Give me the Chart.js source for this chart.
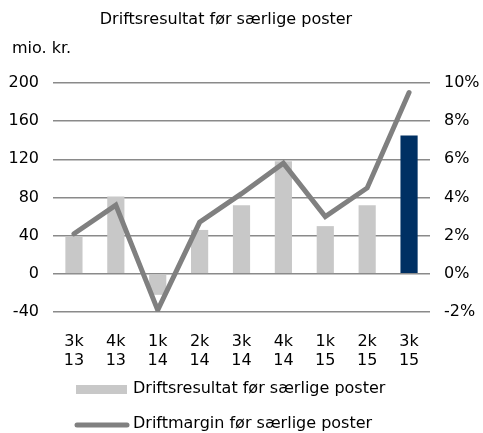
<!DOCTYPE html>
<html>
<head>
<meta charset="utf-8">
<script src="https://cdn.jsdelivr.net/npm/chart.js"></script>
<style>
  html, body { margin:0; padding:0; background:#fff; }
  canvas { display:block; }
</style>
</head>
<body>
<canvas id="chart" width="483" height="433"></canvas>
<script>
// data
const quarters = [["3k","13"],["4k","13"],["1k","14"],["2k","14"],["3k","14"],["4k","14"],["1k","15"],["2k","15"],["3k","15"]];
const resultat = [39, 81, -22, 46, 72, 118, 50, 72, 145];
const margin = [2.1, 3.6, -1.9, 2.7, 4.2, 5.8, 3.0, 4.5, 9.5];
const barColors = ["#c8c8c8","#c8c8c8","#c8c8c8","#c8c8c8","#c8c8c8","#c8c8c8","#c8c8c8","#c8c8c8","#003063"];
const leftTicks = [-40, 0, 40, 80, 120, 160, 200];
const rightTicks = [-2, 0, 2, 4, 6, 8, 10];

const FONT = "DejaVu Sans, Verdana, sans-serif";
Chart.defaults.font.family = FONT;
Chart.defaults.font.size = 16;
Chart.defaults.color = "#000";

const extras = {
  id: "extras",
  afterDraw(chart) {
    const c = chart.ctx;
    c.save();
    c.fillStyle = "#000";
    c.font = "16px " + FONT;
    c.textBaseline = "middle";
    c.textAlign = "center";
    c.fillText("Driftsresultat før særlige poster", 226, 20);
    c.textAlign = "left";
    c.fillText("mio. kr.", 12, 49);
    // legend
    c.fillStyle = "#c8c8c8";
    c.fillRect(76, 385, 51, 9);
    c.strokeStyle = "#808080";
    c.lineWidth = 5;
    c.lineCap = "round";
    c.beginPath();
    c.moveTo(77, 425);
    c.lineTo(127, 425);
    c.stroke();
    c.fillStyle = "#000";
    c.fillText(chart.data.datasets[1].label, 133, 389);
    c.fillText(chart.data.datasets[0].label, 133, 424);
    c.restore();
  }
};

new Chart(document.getElementById("chart"), {
  data: {
    labels: quarters,
    datasets: [
      {
        type: "line",
        label: "Driftmargin før særlige poster",
        data: margin,
        yAxisID: "y1",
        borderColor: "#808080",
        borderWidth: 5,
        borderCapStyle: "round",
        borderJoinStyle: "miter",
        pointRadius: 0,
        tension: 0,
        order: 0
      },
      {
        type: "bar",
        label: "Driftsresultat før særlige poster",
        data: resultat,
        yAxisID: "y",
        backgroundColor: barColors,
        categoryPercentage: 1,
        barPercentage: 0.41,
        order: 1
      }
    ]
  },
  options: {
    responsive: false,
    animation: false,
    layout: { padding: { top: 83, bottom: 61, left: 0, right: 0 } },
    plugins: { legend: { display: false }, tooltip: { enabled: false } },
    scales: {
      x: {
        grid: { display: false },
        border: { display: false },
        ticks: { padding: 12, maxRotation: 0, autoSkip: false, font: { lineHeight: 1.2 } },
        afterFit(s) { s.height = 60; }
      },
      y: {
        position: "left",
        min: -40, max: 200,
        afterBuildTicks(s) { s.ticks = leftTicks.map(v => ({ value: v })); },
        ticks: { padding: 14 },
        grid: { color: "#8a8a8a", lineWidth: 1.5, drawTicks: false },
        border: { display: false },
        afterFit(s) { s.width = 53; }
      },
      y1: {
        position: "right",
        min: -2, max: 10,
        afterBuildTicks(s) { s.ticks = rightTicks.map(v => ({ value: v })); },
        ticks: { padding: 14, callback: v => v + "%" },
        grid: { display: false, drawTicks: false },
        border: { display: false },
        afterFit(s) { s.width = 53; }
      }
    }
  },
  plugins: [extras]
});
</script>
</body>
</html>
